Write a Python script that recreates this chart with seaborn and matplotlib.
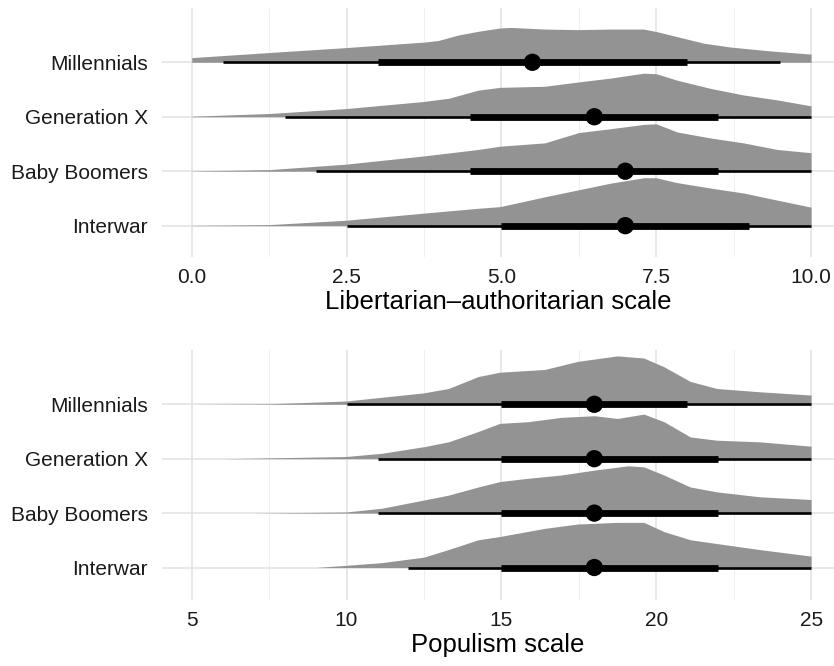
import numpy as np
import seaborn as sns
import matplotlib.pyplot as plt

# generations, bottom row first
generations = ["Interwar", "Baby Boomers", "Generation X", "Millennials"]

# ---- Libertarian-authoritarian scale: density outlines (x, relative height) ----
lib_x = {
    "Millennials": [0.0, 1.26, 2.49, 3.74, 3.98, 4.3, 4.63, 4.98, 5.16, 5.7, 6.23, 6.76, 7.3, 7.52, 7.84, 8.27, 8.7, 9.33, 10.0],
    "Generation X": [0.0, 1.26, 2.49, 3.74, 4.15, 4.63, 4.98, 5.7, 6.25, 6.76, 7.3, 7.5, 7.84, 8.38, 8.91, 9.45, 10.0],
    "Baby Boomers": [0.0, 1.26, 2.49, 3.74, 4.63, 4.98, 5.7, 6.25, 6.76, 7.3, 7.5, 7.84, 8.38, 8.91, 9.45, 10.0],
    "Interwar": [0.0, 1.26, 2.49, 3.74, 4.63, 4.98, 5.7, 6.25, 6.76, 7.3, 7.5, 7.84, 8.38, 8.91, 9.45, 10.0],
}
lib_h = {
    "Millennials": [0.086, 0.18, 0.27, 0.37, 0.40, 0.50, 0.57, 0.63, 0.64, 0.61, 0.60, 0.61, 0.61, 0.56, 0.47, 0.35, 0.28, 0.21, 0.15],
    "Generation X": [0.01, 0.06, 0.15, 0.28, 0.34, 0.49, 0.54, 0.56, 0.64, 0.71, 0.80, 0.79, 0.67, 0.52, 0.40, 0.31, 0.20],
    "Baby Boomers": [0.005, 0.03, 0.13, 0.28, 0.40, 0.46, 0.52, 0.71, 0.78, 0.86, 0.87, 0.72, 0.61, 0.52, 0.40, 0.34],
    "Interwar": [0.005, 0.02, 0.10, 0.23, 0.32, 0.35, 0.53, 0.66, 0.78, 0.88, 0.88, 0.79, 0.69, 0.60, 0.47, 0.34],
}
# intervals: (thin lo, thin hi, thick lo, thick hi, median)
lib_int = {
    "Millennials": (0.5, 9.5, 3.0, 8.0, 5.5),
    "Generation X": (1.5, 10.0, 4.5, 8.5, 6.5),
    "Baby Boomers": (2.0, 10.0, 4.5, 8.5, 7.0),
    "Interwar": (2.5, 10.0, 5.0, 9.0, 7.0),
}

# ---- Populism scale ----
pop_x = {
    "Millennials": [5.0, 7.51, 9.98, 12.49, 13.29, 14.25, 14.95, 16.4, 17.47, 18.75, 19.6, 20.25, 21.1, 21.96, 23.34, 25.0],
    "Generation X": [6.0, 9.98, 11.14, 12.49, 13.29, 14.25, 14.95, 15.86, 16.93, 18.0, 18.75, 19.6, 20.25, 21.1, 21.96, 23.34, 25.0],
    "Baby Boomers": [6.87, 9.98, 11.14, 12.49, 13.29, 14.25, 14.95, 15.86, 16.93, 18.0, 19.1, 19.6, 20.25, 21.1, 21.96, 23.34, 25.0],
    "Interwar": [9.01, 9.98, 11.14, 12.49, 13.29, 14.25, 14.95, 16.4, 17.47, 18.75, 19.6, 20.25, 21.1, 21.96, 23.34, 25.0],
}
pop_h = {
    "Millennials": [0.0, 0.01, 0.06, 0.21, 0.29, 0.51, 0.59, 0.64, 0.79, 0.89, 0.85, 0.69, 0.42, 0.29, 0.23, 0.17],
    "Generation X": [0.0, 0.04, 0.10, 0.22, 0.31, 0.50, 0.65, 0.68, 0.76, 0.79, 0.74, 0.82, 0.68, 0.40, 0.34, 0.31, 0.23],
    "Baby Boomers": [0.0, 0.02, 0.09, 0.24, 0.33, 0.48, 0.58, 0.64, 0.70, 0.79, 0.87, 0.85, 0.70, 0.48, 0.39, 0.30, 0.25],
    "Interwar": [0.0, 0.04, 0.09, 0.19, 0.33, 0.51, 0.57, 0.72, 0.80, 0.83, 0.83, 0.66, 0.51, 0.44, 0.33, 0.21],
}
pop_int = {
    "Millennials": (10.0, 25.0, 15.0, 21.0, 18.0),
    "Generation X": (11.0, 25.0, 15.0, 22.0, 18.0),
    "Baby Boomers": (11.0, 25.0, 15.0, 22.0, 18.0),
    "Interwar": (12.0, 25.0, 15.0, 22.0, 18.0),
}

lib_ticks = [0.0, 2.5, 5.0, 7.5, 10.0]
pop_ticks = [5, 10, 15, 20, 25]

sns.set_theme(style="white")
plt.rcParams['font.family'] = ['Liberation Sans', 'DejaVu Sans']

fig = plt.figure(figsize=(8.34, 6.66), dpi=100)
W, H = 834, 666


def panel(top_px, bot_px, xlim, ylim, xs, hs, ints, ticks, minor, fmt, label):
    ax = fig.add_axes([162 / W, 1 - bot_px / H, (834 - 162) / W, (bot_px - top_px) / H])
    for t in minor:
        ax.axvline(t, color="#f0f0f0", lw=0.8, zorder=0)
    for t in ticks:
        ax.axvline(t, color="#e2e2e2", lw=1.1, zorder=0)
    for i, g in enumerate(generations):
        y0 = i + 1
        ax.axhline(y0, color="#e2e2e2", lw=1.1, zorder=0)
        x = np.array(xs[g])
        h = np.array(hs[g])
        ax.fill_between(x, y0, y0 + h, color="#939393", lw=0, zorder=1)
        lo, hi, tlo, thi, med = ints[g]
        ax.hlines(y0, lo, hi, color="black", lw=1.9, zorder=2)
        ax.hlines(y0, tlo, thi, color="black", lw=4.9, zorder=3)
    meds = [ints[g][4] for g in generations]
    sns.scatterplot(x=meds, y=[1, 2, 3, 4], ax=ax, color="black", s=155,
                    edgecolor="none", zorder=4)
    ax.set_xlim(*xlim)
    ax.set_ylim(*ylim)
    ax.set_xticks(ticks)
    ax.set_xticklabels([fmt.format(t) for t in ticks], fontsize=15, color="#1a1a1a")
    ax.set_yticks([1, 2, 3, 4])
    ax.set_yticklabels(generations, fontsize=15, color="#1a1a1a")
    ax.tick_params(axis="x", length=0, pad=8)
    ax.tick_params(axis="y", length=0, pad=10)
    ax.set_xlabel(label, fontsize=18.5, color="black", labelpad=2)
    ax.set_ylabel("")
    for s in ax.spines.values():
        s.set_visible(False)
    return ax


panel(8, 257, (-0.48, 10.37), (0.425, 4.997), lib_x, lib_h, lib_int,
      lib_ticks, [1.25, 3.75, 6.25, 8.75], "{:.1f}", "Libertarian\u2013authoritarian scale")
panel(350, 600, (4.041, 25.74), (0.403, 4.998), pop_x, pop_h, pop_int,
      pop_ticks, [7.5, 12.5, 17.5, 22.5], "{:d}", "Populism scale")

fig.savefig("out.png", dpi=100)
